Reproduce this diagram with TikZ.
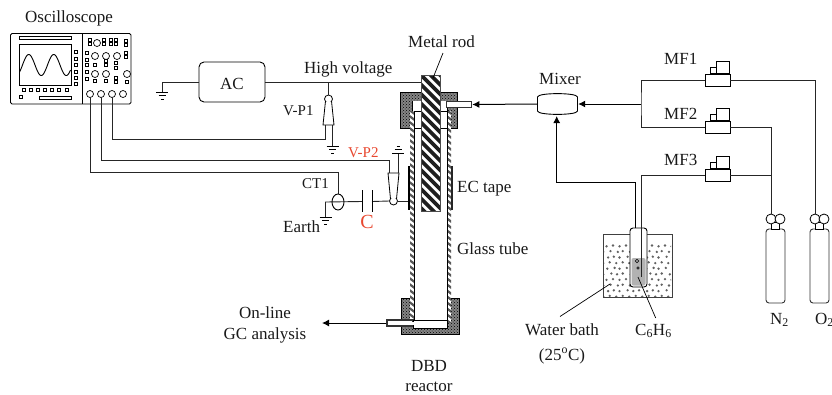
\documentclass[tikz,border=0pt]{standalone}
\usepackage{fontspec}
\setmainfont{Liberation Serif}
\usetikzlibrary{arrows.meta,patterns,shapes.geometric}
\definecolor{redlab}{RGB}{232,72,48}
\tikzset{
  wire/.style={line width=0.9pt,draw=black!85},
  flow/.style={line width=1pt,draw=black,-{Latex[length=7pt,width=7pt]}},
  thin line/.style={line width=0.7pt,draw=black},
  lab/.style={font=\fontsize{17}{20}\selectfont,inner sep=0pt,anchor=base west,text=black!90},
  labc/.style={lab,anchor=base},
  small lab/.style={lab,font=\fontsize{15}{17}\selectfont},
  sq/.style={draw=black,line width=0.7pt,fill=white,minimum size=3pt,inner sep=0pt,rectangle},
  knob/.style={draw=black,line width=0.7pt,fill=white,circle,minimum size=7pt,inner sep=0pt},
  mfbase/.style={draw=black,line width=0.9pt,fill=white,minimum width=25pt,minimum height=12pt,inner sep=0pt},
  gasbody/.style={draw=black!80,line width=0.9pt,fill=white,rounded corners=3pt,minimum width=19pt,minimum height=74pt,inner sep=0pt},
  valve/.style={draw=black,line width=0.8pt,fill=white,circle,minimum size=10pt,inner sep=0pt},
  probe/.style={draw=black,line width=0.8pt,fill=white,circle,minimum size=8pt,inner sep=0pt},
  capfill/.style={fill=black!48,postaction={pattern=crosshatch dots,pattern color=black}},
  gndmark/.pic={\draw[line width=0.8pt] (-6,0)--(6,0) (-3.5,3.5)--(3.5,3.5) (-1.5,7)--(1.5,7);},
  gndup/.pic={\draw[line width=0.8pt] (-6,0)--(6,0) (-3.5,-3.5)--(3.5,-3.5) (-1.5,-7)--(1.5,-7);},
}
\newcommand{\mfunit}[3]{%
  \node[mfbase] (#1) at (717.5,#2) {};
  \draw[line width=0.9pt,fill=white] (#1.north west)++(6,0) rectangle ++(6,-6.5);
  \draw[line width=0.9pt,fill=white] (#1.north west)++(12,0) rectangle ++(13,-12);
  \node[lab] (#1lab) at (664,#3) {#1};
}
\begin{document}
\begin{tikzpicture}[x=1pt,y=-1pt]
\useasboundingbox (0,0) rectangle (832,394);
% ---------- Oscilloscope
\node[lab] (osclab) at (25,22) {Oscilloscope};
\draw[line width=0.9pt,rounded corners=1.5pt] (10.5,33.5) rectangle (131,104);
\draw[line width=0.9pt] (82,33.5)--(82,104);
\draw[line width=0.8pt] (19,36) rectangle (71,39);
\draw[line width=0.9pt] (19,44) rectangle (71,85);
\draw[line width=0.9pt] plot[domain=19.5:70.5,samples=80,smooth] (\x,{65-10.5*sin((\x-22.5)/25*360)});
\draw[line width=0.8pt] (39,96) rectangle (71,99);
\foreach \p in {(76,52),(76,58.5),(76,65),(76,71.5),(76,78),(76,84),
  (24,90),(31,90),(38,90),(45,90),(52,90),(59,90),(67,90),(21,97),
  (90,40),(90,44),(104,40),(104,44),(111,40),(116,40),(111,44),(116,44),(126,41),(126,45),
  (87,53),(87,60),(126,53),(126,57),(87,65),(95,65),(106,61),(106,65),(116,63),(116,68),
  (87,72),(87,79),(95,81),(106,81),(116,78),(116,82),(127,82)}
  \node[sq] at \p {};
\foreach \p in {(97,43),(95,56),(106,56),(117,56),(95,74),(106,74),(127,74),(123,94)}
  \node[knob] at \p {};
\node[knob] (ch1) at (90,94) {};
\node[knob] (ch2) at (101,94) {};
\node[knob] (ch3) at (112,94) {};
% ---------- AC
\node[draw=black,line width=0.9pt,rounded corners=5pt,minimum width=66pt,minimum height=40pt,inner sep=0pt,fill=white] (ac) at (232,82) {};
\node[lab,anchor=base] (aclab) at (232,89) {AC};
\coordinate (gndac) at (162,92);
\draw[wire] (ac.west) -| (gndac);
\pic at (gndac) {gndmark};
% ---------- Top cap of reactor
\draw[line width=0.5pt,capfill] (400,92) rectangle (457,128);
\fill[white] (412,101) rectangle (447,111);
\fill[white] (414,111) rectangle (447,128);
\draw[line width=0.7pt] (412,101)--(412,111) (447,101)--(447,111);
\draw[line width=0.8pt] (410,111)--(421,111) (440,111)--(451,111);
% bottom cap
\draw[line width=0.5pt,capfill] (401,298) rectangle (459,334);
\fill[white] (414,297) rectangle (447,320);
\fill[white] (409,297) rectangle (452,297.8);
% glass walls
\begin{scope}
  \clip (410,111) rectangle (414,322);
  \fill[white] (410,111) rectangle (414,322);
  \foreach \k in {0,6,...,216} \draw[line width=2.2pt,black!65] (408,109+\k)--(416,115+\k);
\end{scope}
\begin{scope}
  \clip (447,111) rectangle (451,322);
  \fill[white] (447,111) rectangle (451,322);
  \foreach \k in {0,6,...,216} \draw[line width=2.2pt,black!65] (445,109+\k)--(453,115+\k);
\end{scope}
\draw[line width=0.7pt] (414,111)--(414,320) (447,111)--(447,320);
% top side tube and floor/bottom side tube
\node[draw=black!80,line width=1.6pt,fill=white,minimum width=25pt,minimum height=6pt,inner sep=0pt] (inlet) at (459,104.5) {};
\node[draw=black!80,line width=1.6pt,fill=white,minimum width=26pt,minimum height=6pt,inner sep=0pt] (outlet) at (400,323) {};
\draw[line width=0.8pt,fill=white] (413,320) rectangle (447,328);
\fill[white] (408,321.5) rectangle (414,324.5);
% metal rod
\node[minimum width=19pt,minimum height=136pt,inner sep=0pt] (rod) at (430.5,143) {};
\begin{scope}
  \clip (421,75) rectangle (440,211);
  \fill[white] (421,75) rectangle (440,211);
  \foreach \k in {-20,-10.5,...,150} \draw[line width=3.6pt,black!88] (415,70+\k)--(446,101+\k);
\end{scope}
\draw[line width=0.5pt,black!70] (421,75) rectangle (440,211);
\node[lab] (rodlab) at (408,47) {Metal rod};
\draw[thin line] (443,53)--(433,78);
% electrodes
\node[fill=black,minimum width=2.4pt,minimum height=44pt,inner sep=0pt] (ecl) at (409,188) {};
\node[fill=black!85,minimum width=1.6pt,minimum height=44pt,inner sep=0pt] (ecr) at (452,188) {};
% ---------- High voltage and V-P1
\coordinate (hvj) at (328.5,82);
\draw[wire] (ac.east) -- (421,82);
\node[lab] (hvlab) at (304,73) {High voltage};
\node[probe] (vp1) at (328.5,99) {};
\draw[wire] (hvj) -- (vp1.north);
\draw[line width=0.8pt,fill=white] (vp1.south west) -- (323,125) -- (334,125) -- (vp1.south east);
\coordinate (vp1l) at (325.7,125);
\coordinate (vp1r) at (332.7,125);
\coordinate (gnd1) at (332.7,146);
\draw[wire] (vp1r) -- (gnd1);
\pic at (gnd1) {gndmark};
\draw[wire] (ch3.south) |- (325.7,139) -- (vp1l);
\node[small lab] (vp1lab) at (283,115) {V-P1};
% ---------- V-P2
\node[probe] (vp2) at (393.5,201) {};
\draw[line width=0.8pt,fill=white] (vp2.north west) -- (388,173) -- (399,173) -- (vp2.north east);
\coordinate (vp2l) at (389,173);
\coordinate (vp2r) at (398,173);
\coordinate (gnd2) at (398,153);
\draw[wire] (vp2r) -- (gnd2);
\pic at (gnd2) {gndup};
\draw[wire] (ch2.south) |- (389,160) -- (vp2l);
\node[small lab,text=redlab] (vp2lab) at (348,157) {V-P2};
% ---------- CT1, capacitor, earth
\draw[wire] (ch1.south) |- (338,172) -- (338,194);
\coordinate (capl) at (362,201.5);
\coordinate (capr) at (372,201.5);
\coordinate (earth) at (325.5,202);
\coordinate (gnd3) at (325.5,217);
\draw[wire] (gnd3) -- (earth) -- (capl);
\draw[wire] (capr) -- (vp2.west);
\draw[wire] (vp2.east) -- (ecl.west |- vp2.east);
\draw[line width=1pt] (362,190)--(362,212) (372,190)--(372,212);
\node[draw=black,line width=0.9pt,ellipse,minimum width=12pt,minimum height=16pt,inner sep=0pt] (ct) at (338,202) {};
\pic at (gnd3) {gndmark};
\node[small lab] (ctlab) at (302,188) {CT1};
\node[lab] (earthlab) at (283,232) {Earth};
\node[lab,anchor=base,text=redlab,font=\fontsize{20}{22}\selectfont] (clab) at (367,228) {C};
\node[lab] (eclab) at (457,192) {EC tape};
\node[lab] (gtlab) at (457,254) {Glass tube};
\node[labc] (dbd) at (429,371) {DBD};
\node[labc] (reactor) at (429,391) {reactor};
% outlet arrow
\node[labc] (online) at (265,318) {On-line};
\node[labc] (gc) at (265,339) {GC analysis};
\coordinate (gctip) at (322,323);
\draw[flow] (outlet.west) -- (gctip);
% ---------- Mixer
\node[minimum width=41pt,minimum height=22pt,inner sep=0pt] (mixer) at (557.5,104) {};
\draw[line width=0.9pt,fill=white] (537.5,97) .. controls (537.5,92.5) and (577.5,92.5) .. (577.5,97) -- (577.5,111) .. controls (577.5,115.5) and (537.5,115.5) .. (537.5,111) -- cycle;
\node[labc] (mixlab) at (560,84) {Mixer};
\coordinate (bus) at (641,104);
\draw[flow] (bus) -- (mixer.east);
\draw[flow] (mixer.west) -- (inlet.east);
% ---------- Mass flow units
\mfunit{MF1}{80}{64}
\mfunit{MF2}{127}{119}
\mfunit{MF3}{175}{165}
\draw[wire] (MF1.west) -| (bus) |- (MF2.west);
% ---------- Gas cylinders
\node[gasbody] (n2) at (775.5,266) {};
\node[gasbody] (o2) at (819.5,266) {};
\foreach \xa in {775.5,819.5}{
  \draw[line width=0.8pt,fill=white] (\xa-4,222) rectangle (\xa+4,229);
}
\node[valve] (n2v) at (771,219) {};
\node[valve] at (780,219) {};
\node[valve] (o2v) at (815,219) {};
\node[valve] at (824,219) {};
\draw[wire] (MF3.east) -- (771,175);
\draw[wire] (MF1.east) -| (o2v.north);
\draw[wire] (MF2.east) -| (n2v.north);
\node[lab] (n2lab) at (770,324) {N\textsubscript{2}};
\node[lab] (o2lab) at (815,324) {O\textsubscript{2}};
% ---------- Water bath
\node[draw=black!75,line width=1pt,minimum width=69pt,minimum height=63pt,inner sep=0pt,fill=white] (bath) at (637.5,265.5) {};
\begin{scope}
  \clip (604,244) rectangle (671,296);
  \foreach \i in {0,...,11}
    \foreach \j in {0,...,9}
      \fill[black!62] ({600+6.5*\i+(3.2*mod(\j,2))+0.8*mod(\i*\j,3)},{245.5+5.6*\j+0.8*mod(\i+\j,2)}) circle[radius=1.3];
\end{scope}
\node[draw=black,line width=0.9pt,fill=white,rounded corners=3pt,minimum width=17pt,minimum height=59pt,inner sep=0pt] (bub) at (638.5,257.5) {};
\fill[black!30,rounded corners=2pt] (631.5,258) rectangle (645.5,285.5);
\draw[line width=0.6pt] (637,261) circle[radius=1.8] (638,268) circle[radius=1.3];
\coordinate (feedin) at (641,277);
\coordinate (feedout) at (635,228);
\draw[wire] (MF3.west) -| (feedin);
\draw[flow] (feedout) |- (556.7,182) -- (556.7,116);
\draw[thin line] (560,316.5)--(610,284);
\draw[thin line] (655.7,318)--(638,277);
\node[labc] (wblab) at (562,335) {Water bath};
\node[labc] (tlab) at (562,360) {(25\textsuperscript{o}C)};
\node[lab] (c6lab) at (635,335) {C\textsubscript{6}H\textsubscript{6}};
\end{tikzpicture}
\end{document}
